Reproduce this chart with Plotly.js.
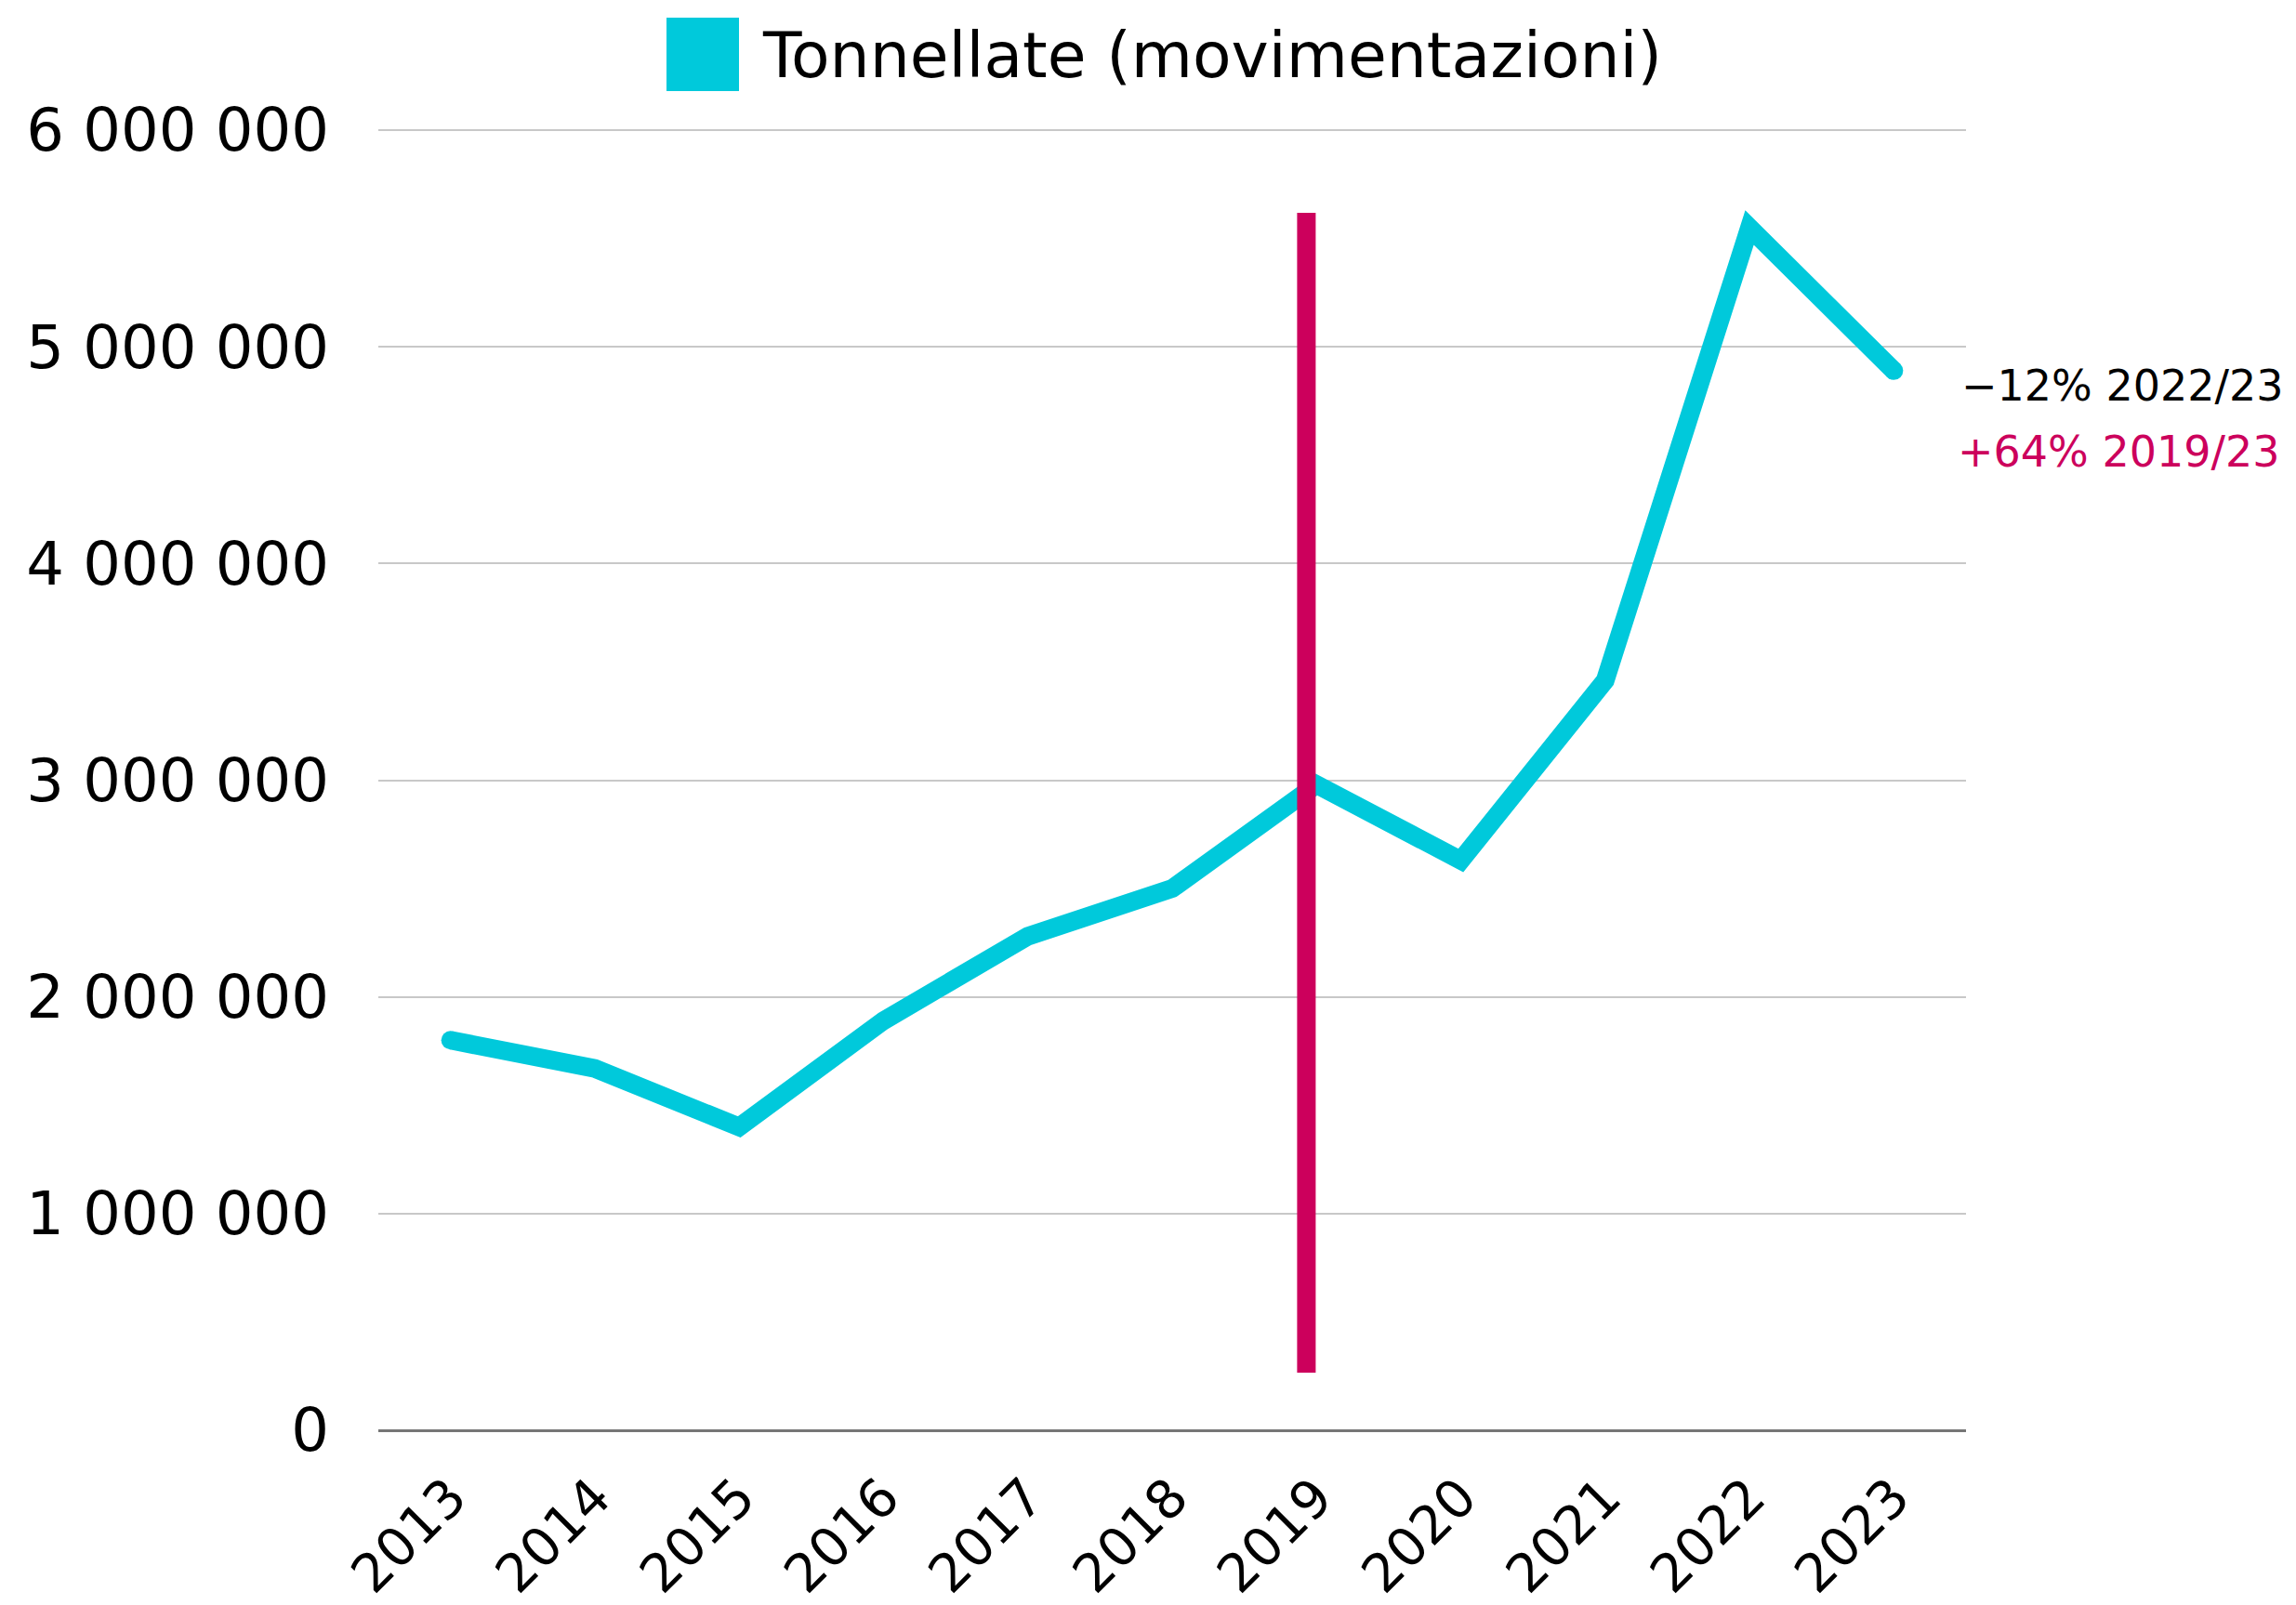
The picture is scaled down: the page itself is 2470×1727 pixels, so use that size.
<!DOCTYPE html>
<html>
<head>
<meta charset="utf-8">
<script src="https://cdn.plot.ly/plotly-3.0.1.min.js"></script>
<style>
  html, body { margin: 0; padding: 0; background: #ffffff; }
  #chart { width: 2470px; height: 1727px; }
</style>
</head>
<body>
<div id="chart"></div>
<script>
// ---- Data ----
const years = ["2013", "2014", "2015", "2016", "2017", "2018", "2019", "2020", "2021", "2022", "2023"];
const tonnellate = [1800000, 1670000, 1400000, 1890000, 2280000, 2500000, 2980000, 2630000, 3460000, 5550000, 4890000];
const seriesName = "Tonnellate (movimentazioni)";
const noteChange2223 = "−12% 2022/23";
const noteChange1923 = "+64% 2019/23";
const yTicks = [0, 1000000, 2000000, 3000000, 4000000, 5000000, 6000000];
const markerIndex = 5.93;          // position of the 2019 reference bar on the category axis
const markerRange = [266000, 5618000];

const CYAN = "#00C9DB";
const MAGENTA = "#CC005C";
const FONT = "DejaVu Sans";
const LINE_W = 20;

// ---- Geometry ----
const W = 2470, H = 1727;
const mL = 407, mR = 355, mT = 133, mB = 188;
const pw = W - mL - mR, ph = H - mT - mB;
const px = (x) => (x - mL) / pw;          // pixel x -> paper x
const py = (y) => (H - mB - y) / ph;      // pixel y -> paper y

// round caps only at the two ends of the line
const capSizes = years.map((_, i) => (i === 0 || i === years.length - 1) ? LINE_W : 0);

const traces = [{
  type: "scatter",
  mode: "lines+markers",
  name: seriesName,
  x: years,
  y: tonnellate,
  line: { color: CYAN, width: LINE_W },
  marker: { color: CYAN, size: capSizes, symbol: "circle", opacity: 1, line: { width: 0 } },
  showlegend: false,
  hoverinfo: "x+y"
}];

const layout = {
  width: W,
  height: H,
  margin: { l: mL, r: mR, t: mT, b: mB, pad: 0 },
  paper_bgcolor: "#ffffff",
  plot_bgcolor: "#ffffff",
  separators: ", ",
  font: { family: FONT, color: "#000000" },
  showlegend: false,
  xaxis: {
    type: "category",
    range: [-0.5, years.length - 0.5],
    showgrid: false,
    zeroline: false,
    showline: false,
    ticks: "",
    tickangle: -45,
    tickfont: { family: FONT, size: 57, color: "#000000" },
    ticklabelstandoff: 26
  },
  yaxis: {
    range: [0, 6030000],
    tickvals: yTicks,
    tickformat: ",d",
    showgrid: true,
    gridcolor: "#C8C8C8",
    gridwidth: 2,
    zeroline: true,
    zerolinecolor: "#767676",
    zerolinewidth: 3,
    showline: false,
    ticks: "",
    ticklabelstandoff: 52,
    tickfont: { family: FONT, size: 64, color: "#000000" }
  },
  shapes: [
    {
      type: "line",
      xref: "x", yref: "y",
      x0: markerIndex, x1: markerIndex,
      y0: markerRange[0], y1: markerRange[1],
      line: { color: MAGENTA, width: 20 },
      layer: "above"
    },
    {
      type: "rect",
      xref: "paper", yref: "paper",
      x0: px(717), x1: px(795),
      y0: py(98), y1: py(19),
      fillcolor: CYAN,
      line: { width: 0 }
    }
  ],
  annotations: [
    {
      xref: "paper", yref: "paper",
      x: px(818), y: py(60),
      xanchor: "left", yanchor: "middle",
      text: seriesName,
      showarrow: false,
      font: { family: FONT, size: 68, color: "#000000" }
    },
    {
      xref: "paper", yref: "paper",
      x: px(2108), y: py(415),
      xanchor: "left", yanchor: "middle",
      text: noteChange2223,
      showarrow: false,
      font: { family: FONT, size: 46, color: "#000000" }
    },
    {
      xref: "paper", yref: "paper",
      x: px(2104), y: py(486),
      xanchor: "left", yanchor: "middle",
      text: noteChange1923,
      showarrow: false,
      font: { family: FONT, size: 46, color: MAGENTA }
    }
  ]
};

Plotly.newPlot("chart", traces, layout, { displayModeBar: false, staticPlot: true });
</script>
</body>
</html>
